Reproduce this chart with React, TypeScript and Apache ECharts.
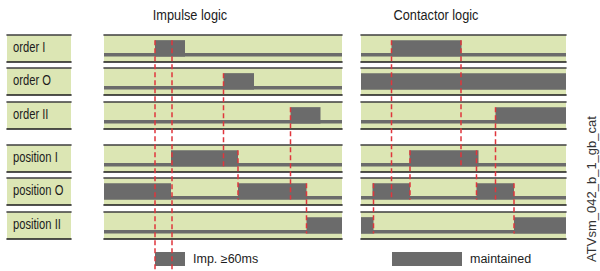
import React, { useEffect, useRef } from "react";
import * as echarts from "echarts";

// ---- data (time in ms) ----
const rowLabels = ["order I", "order O", "order II", "position I", "position O", "position II"];
const panelTitles = ["Impulse logic", "Contactor logic"];
const legendNames = ["Imp. ≥60ms", "maintained"];
const figureCode = "ATVsm_042_b_1_gb_cat";

const impulseMax = 476;
const contactorMax = 410;

// high (active) intervals per row
const impulseHigh: number[][][] = [
  [[102, 162]],
  [[239, 300]],
  [[373, 433]],
  [[134, 268]],
  [[0, 134], [268, 405]],
  [[405, 476]],
];
const contactorHigh: number[][][] = [
  [[61, 201]],
  [[0, 410]],
  [[269, 410]],
  [[97, 235]],
  [[23, 98], [231, 306]],
  [[0, 25], [306, 410]],
];

// causal dashed links: [time, fromRow, toRow] (toRow -1 = down to the legend)
const impulseLinks: number[][] = [
  [102, 0, -1],
  [136, 0, -1],
  [239, 1, 3],
  [268, 3, 4],
  [373, 2, 4],
  [405, 4, 5],
];
const contactorLinks: number[][] = [
  [61, 0, 4],
  [200, 0, 3],
  [269, 2, 4],
  [98, 3, 4],
  [231, 3, 4],
  [25, 4, 5],
  [306, 4, 5],
];

// ---- styling / layout ----
const W = 600;
const H = 271;
const FONT = "'Liberation Sans',Arial,sans-serif";
const GREEN = "#dce6b4";
const GRAY = "#6b6b6b";
const TOP_LINE = "#3f3f3f";
const BOTTOM_LINE = "#1a1a1a";
const RED = "#e0363c";
const ROW_TOPS = [35, 68, 102, 145, 178, 212];
const ROW_H = 27;
const Y_MIN = -0.7;
const Y_MAX = 1.4;
const BASE = -0.28;
const LOW = 0;
const HIGH = 1;

const PANELS = [
  { left: 104, width: 238, max: impulseMax, high: impulseHigh, links: impulseLinks, titleX: 190, legendLeft: 155, legendW: 30 },
  { left: 361, width: 205, max: contactorMax, high: contactorHigh, links: contactorLinks, titleX: 436, legendLeft: 392, legendW: 70 },
];

const renderItem = (params: any, api: any) => {
  const s = api.value(0);
  const e = api.value(1);
  const lvl = api.value(2);
  const p1 = api.coord([s, lvl]);
  const p2 = api.coord([e, BASE]);
  return {
    type: "rect",
    shape: { x: p1[0], y: p1[1], width: p2[0] - p1[0], height: p2[1] - p1[1] },
    style: { fill: GRAY },
  };
};

function borderAxes(g: number, max: number) {
  const common = {
    gridIndex: g,
    type: "value",
    min: 0,
    max,
    axisTick: { show: false },
    axisLabel: { show: false },
    splitLine: { show: false },
  };
  return [
    { ...common, position: "bottom", axisLine: { show: true, onZero: false, lineStyle: { color: BOTTOM_LINE, width: 1.6 } } },
    { ...common, position: "top", axisLine: { show: true, onZero: false, lineStyle: { color: TOP_LINE, width: 1.6 } } },
  ];
}

export default function App() {
  const ref = useRef<HTMLDivElement>(null);
  useEffect(() => {
    document.body.style.margin = "0";
    if (!ref.current) return;
    const chart = echarts.init(ref.current, null, { renderer: "svg" });
    const grid: any[] = [];
    const xAxis: any[] = [];
    const yAxis: any[] = [];
    const series: any[] = [];

    PANELS.forEach((p, pi) => {
      ROW_TOPS.forEach((top, ri) => {
        const g = grid.length;
        grid.push({ left: p.left, top, width: p.width, height: ROW_H, show: true, backgroundColor: GREEN, borderWidth: 0 });
        xAxis.push(...borderAxes(g, p.max));
        yAxis.push({ gridIndex: g, type: "value", min: Y_MIN, max: Y_MAX, show: false });
        series.push({
          type: "custom",
          name: legendNames[pi],
          xAxisIndex: 2 * g,
          yAxisIndex: g,
          renderItem,
          encode: { x: [0, 1], y: 2 },
          itemStyle: { color: GRAY },
          silent: true,
          data: [[0, p.max, LOW], ...p.high[ri].map(([s, e]) => [s, e, HIGH])],
        });
      });
    });
    // label boxes
    ROW_TOPS.forEach((top) => {
      const g = grid.length;
      grid.push({ left: 7, top, width: 64, height: ROW_H, show: true, backgroundColor: GREEN, borderWidth: 0 });
      xAxis.push(...borderAxes(g, 1));
      yAxis.push({ gridIndex: g, type: "value", min: 0, max: 1, show: false });
    });

    const legend = PANELS.map((p, pi) => ({
      data: [legendNames[pi]],
      left: p.legendLeft,
      top: 252,
      padding: 0,
      icon: "rect",
      itemWidth: p.legendW,
      itemHeight: 14,
      selectedMode: false,
      textStyle: { fontFamily: FONT, fontSize: 12.5, color: "#1c1c1c", padding: [0, 0, 0, 3] },
    }));

    chart.setOption({ animation: false, grid, xAxis, yAxis, series, legend });

    const elements: any[] = [];
    PANELS.forEach((p, pi) => {
      elements.push({
        type: "text",
        x: p.titleX,
        y: 15,
        scaleX: 0.85,
        style: { text: panelTitles[pi], fontFamily: FONT, fontSize: 15, fill: "#1c1c1c", align: "center", verticalAlign: "middle" },
      });
      p.links.forEach(([t, from, to]) => {
        const a = chart.convertToPixel({ seriesIndex: pi * 6 + from }, [t, HIGH]) as number[];
        const yEnd = to < 0 ? H : (chart.convertToPixel({ seriesIndex: pi * 6 + to }, [t, BASE]) as number[])[1];
        elements.push({
          type: "line",
          z: 100,
          shape: { x1: a[0], y1: a[1], x2: a[0], y2: yEnd },
          style: { stroke: RED, lineWidth: 1.5, lineDash: [5, 3] },
        });
      });
    });
    ROW_TOPS.forEach((top, ri) => {
      elements.push({
        type: "text",
        x: 13,
        y: top + 13,
        scaleX: 0.8,
        style: { text: rowLabels[ri], fontFamily: FONT, fontSize: 14, fill: "#1c1c1c", align: "left", verticalAlign: "middle" },
      });
    });
    elements.push({
      type: "text",
      x: 591,
      y: 189,
      rotation: Math.PI / 2,
      style: { text: figureCode, fontFamily: FONT, fontSize: 13, fill: "#333", align: "center", verticalAlign: "middle" },
    });
    chart.setOption({ graphic: { elements } });

    return () => chart.dispose();
  }, []);
  return <div ref={ref} style={{ width: W, height: H }} />;
}
